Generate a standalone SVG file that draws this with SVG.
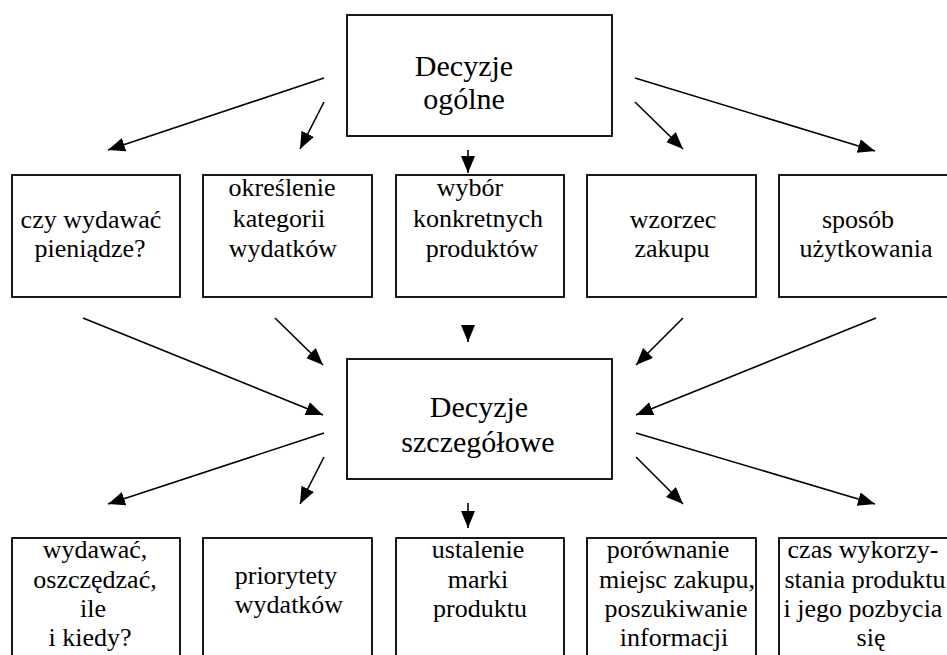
<svg xmlns="http://www.w3.org/2000/svg" width="947" height="655" viewBox="0 0 947 655">
<defs>
<style>
.box{fill:#fff;stroke:#000;stroke-width:1.8}
.t{font-size:26px;fill:#000;text-anchor:middle}
.big{font-size:30px}
.c{stroke:#000;stroke-width:1.6;fill:none;marker-end:url(#ah)}
</style>
<marker id="ah" markerUnits="userSpaceOnUse" markerWidth="20" markerHeight="16" refX="17" refY="7" orient="auto">
<path d="M0,0 L17,7 L0,14 z" fill="#000"/>
</marker>
</defs>
<rect width="947" height="655" fill="#fff"/>
<g id="connectors">
<line class="c" x1="324" y1="78" x2="108" y2="150"/>
<line class="c" x1="324" y1="102" x2="300" y2="149"/>
<line class="c" x1="468" y1="150" x2="468" y2="173"/>
<line class="c" x1="635" y1="102" x2="683" y2="149"/>
<line class="c" x1="635" y1="78" x2="875" y2="151"/>
<line class="c" x1="83" y1="318" x2="323" y2="415"/>
<line class="c" x1="275" y1="318" x2="323" y2="365"/>
<line class="c" x1="468" y1="326" x2="468" y2="342"/>
<line class="c" x1="683" y1="318" x2="636" y2="365"/>
<line class="c" x1="876" y1="318" x2="636" y2="415"/>
<line class="c" x1="324" y1="433" x2="108" y2="504"/>
<line class="c" x1="324" y1="457" x2="300" y2="504"/>
<line class="c" x1="468" y1="503" x2="468" y2="528"/>
<line class="c" x1="636" y1="457" x2="683" y2="504"/>
<line class="c" x1="636" y1="433" x2="875" y2="504"/>
</g>
<g font-family="'Liberation Serif', 'Times New Roman', 'DejaVu Serif', serif">
<g id="ogolne">
<rect class="box" x="347" y="15" width="265" height="121"/>
<text class="t big" x="464" y="76">Decyzje</text>
<text class="t big" x="464" y="109">ogólne</text>
</g>
<g id="czy-wydawac">
<rect class="box" x="12" y="175" width="168" height="122"/>
<text class="t" x="91" y="228">czy wydawać</text>
<text class="t" x="90" y="257">pieniądze?</text>
</g>
<g id="kategorie">
<rect class="box" x="203" y="175" width="169" height="122"/>
<text class="t" x="282" y="196">określenie</text>
<text class="t" x="279" y="227">kategorii</text>
<text class="t" x="283" y="257">wydatków</text>
</g>
<g id="wybor">
<rect class="box" x="396" y="175" width="168" height="122"/>
<text class="t" x="470" y="196">wybór</text>
<text class="t" x="478" y="227">konkretnych</text>
<text class="t" x="482" y="257">produktów</text>
</g>
<g id="wzorzec">
<rect class="box" x="587" y="175" width="169" height="122"/>
<text class="t" x="673" y="228">wzorzec</text>
<text class="t" x="672" y="257">zakupu</text>
</g>
<g id="sposob">
<rect class="box" x="779" y="175" width="170" height="122"/>
<text class="t" x="858" y="228">sposób</text>
<text class="t" x="866" y="257">użytkowania</text>
</g>
<g id="szczegolowe">
<rect class="box" x="347" y="359" width="265" height="120"/>
<text class="t big" x="479" y="417">Decyzje</text>
<text class="t big" x="478" y="452">szczegółowe</text>
</g>
<g id="oszczedzac">
<rect class="box" x="12" y="538" width="168" height="130"/>
<text class="t" x="95" y="558">wydawać,</text>
<text class="t" x="95" y="588">oszczędzać,</text>
<text class="t" x="93" y="617">ile</text>
<text class="t" x="90" y="646">i kiedy?</text>
</g>
<g id="priorytety">
<rect class="box" x="203" y="538" width="169" height="130"/>
<text class="t" x="286" y="584">priorytety</text>
<text class="t" x="289" y="613">wydatków</text>
</g>
<g id="marka">
<rect class="box" x="396" y="538" width="168" height="130"/>
<text class="t" x="478" y="558">ustalenie</text>
<text class="t" x="478" y="588">marki</text>
<text class="t" x="480" y="617">produktu</text>
</g>
<g id="porownanie">
<rect class="box" x="587" y="538" width="169" height="130"/>
<text class="t" x="668" y="558">porównanie</text>
<text class="t" x="677" y="588">miejsc zakupu,</text>
<text class="t" x="676" y="617">poszukiwanie</text>
<text class="t" x="674" y="646">informacji</text>
</g>
<g id="czas">
<rect class="box" x="779" y="538" width="170" height="130"/>
<text class="t" x="863" y="558">czas wykorzy-</text>
<text class="t" x="865" y="588">stania produktu</text>
<text class="t" x="863" y="617">i jego pozbycia</text>
<text class="t" x="871" y="646">się</text>
</g>
</g>
</svg>
